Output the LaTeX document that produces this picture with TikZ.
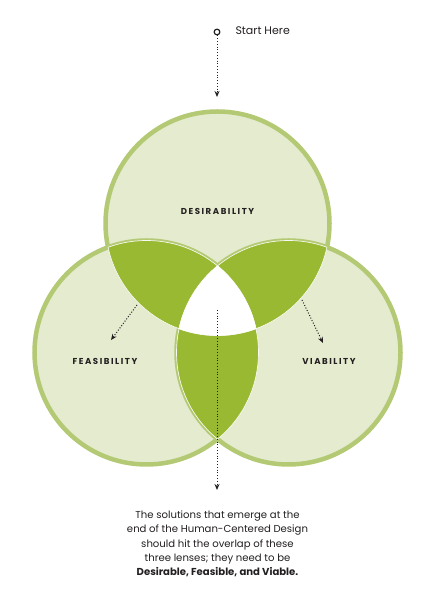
\documentclass[tikz,border=0pt]{standalone}
\usepackage{fontspec}
\setmainfont{Poppins}
\newfontfamily\lensfont[LetterSpace=18]{Poppins}
\usetikzlibrary{arrows.meta, positioning}
\definecolor{hcdLight}{HTML}{E4EBCE}
\definecolor{hcdRim}{HTML}{B4C973}
\definecolor{hcdDark}{HTML}{99B932}
\definecolor{hcdInk}{HTML}{231F20}
\tikzset{
  % rim and lens colours taken from the toolkit page
  lens/.style      = {fill=hcdLight, draw=hcdRim, line width=4.5pt},
  lensfill/.style  = {fill=hcdDark},
  seam/.style      = {draw=white!70!hcdLight, line width=0.7pt},
  lenslbl/.style   = {font=\lensfont\bfseries\fontsize{8.6}{9}\selectfont, text=hcdInk},
  note/.style      = {font=\fontsize{10.1}{14.4}\selectfont, text=hcdInk, align=center},
  pointer/.style   = {hcdInk, line width=1pt, dash pattern=on 1pt off 1.8pt,
                      -{Stealth[length=6pt, width=5pt]}},
}
\begin{document}
\begin{tikzpicture}[x=1pt, y=1pt]
  \useasboundingbox (0,0) rectangle (435,609);
  \def\rad{112}
  \coordinate (desC) at (217.5,385.5);
  \coordinate (feaC) at (146.5,256.5);
  \coordinate (viaC) at (288.5,256.5);
  % the three lenses
  \path[lens] (desC) circle (\rad);
  \path[lens] (feaC) circle (\rad);
  \path[lens] (viaC) circle (\rad);
  % pairwise overlaps
  \begin{scope}
    \clip (desC) circle (\rad);
    \fill[lensfill] (feaC) circle (\rad);
    \fill[lensfill] (viaC) circle (\rad);
  \end{scope}
  \begin{scope}
    \clip (feaC) circle (\rad);
    \fill[lensfill] (viaC) circle (\rad);
  \end{scope}
  % thin seams along the inner arcs
  \foreach \a/\b in {desC/feaC, desC/viaC, feaC/desC, feaC/viaC, viaC/desC, viaC/feaC} {
    \begin{scope}
      \clip (\b) circle (\rad);
      \path[seam] (\a) circle (\rad);
    \end{scope}
  }
  % sweet spot
  \begin{scope}
    \clip (desC) circle (\rad);
    \clip (feaC) circle (\rad);
    \fill[white] (viaC) circle (\rad);
  \end{scope}

  % labels
  \node[lenslbl] (des) at (217.5,398) {DESIRABILITY};
  \node[lenslbl] (fea) at (105,248) {FEASIBILITY};
  \node[lenslbl] (via) at (329,248) {VIABILITY};

  % start marker
  \node[circle, draw=hcdInk, line width=1.2pt, inner sep=2pt] (start) at (217,577) {};
  \node[anchor=west, font=\fontsize{11}{12}\selectfont, text=hcdInk] (startlbl)
       at (232,578) {Start Here};
  \coordinate (desIn) at (217,512);
  \draw[pointer] (start) -- (desIn);

  % pointers to the lens names
  \coordinate (feaOut) at (137,304);
  \coordinate (feaIn)  at (111,269);
  \draw[pointer] (feaOut) -- (feaIn);
  \coordinate (viaOut) at (302,309);
  \coordinate (viaIn)  at (323,266);
  \draw[pointer] (viaOut) -- (viaIn);

  % from the middle down to the note
  \node[note, anchor=north] (summary) at (217.5,102)
    {The solutions that emerge at the\\
     end of the Human-Centered Design\\
     should hit the overlap of these\\
     three lenses; they need to be\\
     \textbf{Desirable, Feasible, and Viable.}};
  \coordinate (spot) at (217,299);
  \coordinate (noteIn) at (217,119);
  \draw[pointer] (spot) -- (noteIn);
\end{tikzpicture}
\end{document}
